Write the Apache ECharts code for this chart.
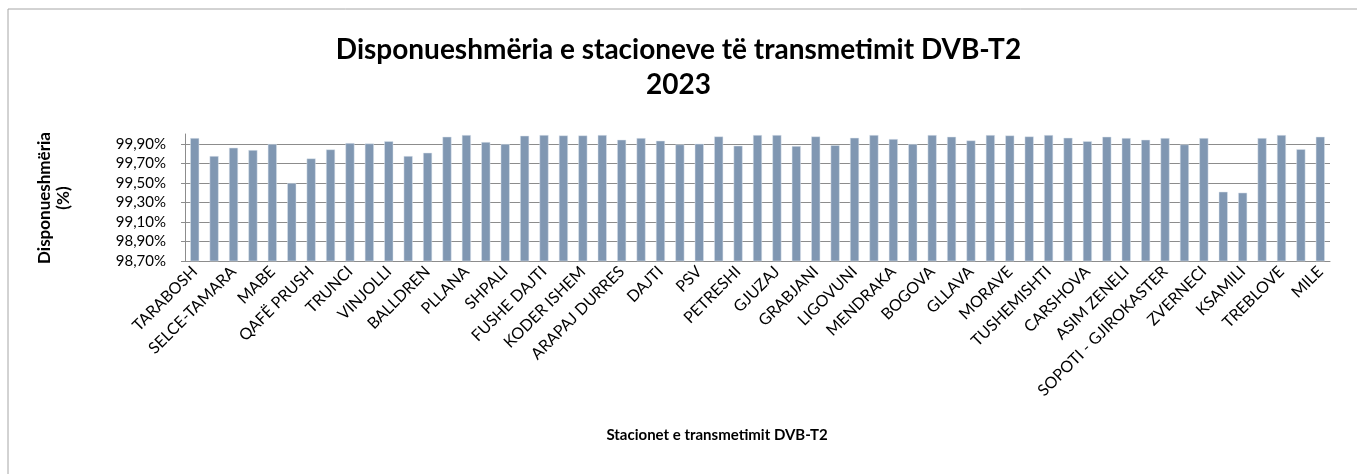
<!DOCTYPE html>
<html>
<head>
<meta charset="utf-8">
<script src="https://cdn.jsdelivr.net/npm/echarts@6/dist/echarts.min.js"></script>
<style>
  html, body { margin: 0; padding: 0; background: #fff; }
  #chart { width: 1357px; height: 474px; }
</style>
</head>
<body>
<div id="chart"></div>
<script>
// stacionet: emrat qe shfaqen ne grafik (te tjerat jane pa etikete)
var stations = [
  'TARABOSH', '', 'SELCE-TAMARA', '', 'MABE', '', 'QAFË PRUSH', '', 'TRUNCI', '',
  'VINJOLLI', '', 'BALLDREN', '', 'PLLANA', '', 'SHPALI', '', 'FUSHE DAJTI', '',
  'KODER ISHEM', '', 'ARAPAJ DURRES', '', 'DAJTI', '', 'PSV', '', 'PETRESHI', '',
  'GJUZAJ', '', 'GRABJANI', '', 'LIGOVUNI', '', 'MENDRAKA', '', 'BOGOVA', '',
  'GLLAVA', '', 'MORAVE', '', 'TUSHEMISHTI', '', 'CARSHOVA', '', 'ASIM ZENELI', '',
  'SOPOTI - GJIROKASTER', '', 'ZVERNECI', '', 'KSAMILI', '', 'TREBLOVE', '', 'MILE'
];

// disponueshmeria ne %
var availability = [
  99.958, 99.774, 99.859, 99.835, 99.897, 99.498, 99.750, 99.842, 99.907, 99.903,
  99.927, 99.774, 99.808, 99.972, 99.989, 99.917, 99.897, 99.982, 99.989, 99.985,
  99.985, 99.989, 99.941, 99.958, 99.931, 99.893, 99.900, 99.975, 99.880, 99.989,
  99.989, 99.876, 99.975, 99.886, 99.961, 99.989, 99.948, 99.897, 99.989, 99.972,
  99.934, 99.989, 99.985, 99.975, 99.989, 99.961, 99.927, 99.972, 99.958, 99.941,
  99.958, 99.893, 99.958, 99.409, 99.399, 99.958, 99.989, 99.845, 99.972
];

var yMin = 98.7;
var yMax = 100;
var yStep = 0.2;

var font = 'Lato, "Open Sans", sans-serif';
var gridGray = '#8c8c8c';

var chart = echarts.init(document.getElementById('chart'));
chart.setOption({
  animation: false,
  title: {
    text: 'Disponueshmëria e stacioneve të transmetimit DVB-T2\n2023',
    left: 'center',
    top: 27,
    textStyle: {
      fontFamily: font,
      fontSize: 28,
      fontWeight: 'bold',
      color: '#000',
      lineHeight: 35
    }
  },
  graphic: [
    {
      type: 'rect',
      shape: { x: 8, y: 9, width: 1500, height: 600 },
      style: { fill: 'none', stroke: '#a6a6a6', lineWidth: 1 },
      silent: true
    },
    {
      type: 'text',
      x: 54, y: 198,
      rotation: Math.PI / 2,
      style: {
        text: 'Disponueshmëria\n(%)',
        fontFamily: font,
        fontSize: 17,
        fontWeight: 'bold',
        fill: '#000',
        align: 'center',
        verticalAlign: 'middle',
        lineHeight: 19
      }
    },
    {
      type: 'text',
      x: 717, y: 435,
      style: {
        text: 'Stacionet e transmetimit DVB-T2',
        fontFamily: font,
        fontSize: 15,
        fontWeight: 'bold',
        fill: '#000',
        align: 'center',
        verticalAlign: 'middle'
      }
    }
  ],
  grid: {
    left: 185,
    right: 27,
    top: 134,
    bottom: 213
  },
  xAxis: {
    type: 'category',
    data: stations,
    axisLine: { lineStyle: { color: gridGray, width: 1 } },
    axisTick: { show: false },
    axisLabel: {
      interval: 0,
      rotate: 45,
      fontFamily: font,
      fontSize: 16,
      color: '#000',
      margin: 8
    }
  },
  yAxis: {
    type: 'value',
    min: yMin,
    max: yMax,
    interval: yStep,
    axisLine: { show: true, lineStyle: { color: gridGray, width: 1 } },
    axisTick: { show: true, length: 4, lineStyle: { color: gridGray } },
    splitLine: {
      lineStyle: {
        // no line at the top (100%)
        color: [gridGray, gridGray, gridGray, gridGray, gridGray, gridGray, gridGray, 'rgba(0,0,0,0)'],
        width: 1
      }
    },
    axisLabel: {
      fontFamily: font,
      fontSize: 15,
      color: '#000',
      margin: 19,
      showMaxLabel: false,
      formatter: function (v) {
        if (v > 99.95) return '';
        return v.toFixed(2).replace('.', ',') + '%';
      }
    }
  },
  series: [
    {
      type: 'bar',
      data: availability,
      barWidth: 9,
      itemStyle: {
        color: '#8097b2',
        borderColor: '#dfe6ee',
        borderWidth: 0.5
      }
    }
  ]
});
</script>
</body>
</html>
